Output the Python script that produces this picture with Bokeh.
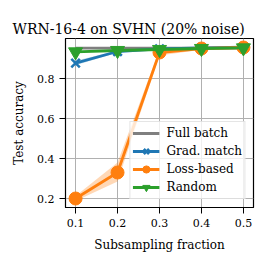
from bokeh.plotting import figure
from bokeh.models import Legend, LegendItem, Range1d, FixedTicker
from bokeh.embed import file_html
from bokeh.resources import INLINE

fractions = [0.1, 0.2, 0.3, 0.4, 0.5]
full_batch = [0.952, 0.952, 0.952, 0.952, 0.952]
grad_match = [0.877, 0.935, 0.948, 0.953, 0.957]
grad_lo = [0.866, 0.930, 0.945, 0.950, 0.954]
grad_hi = [0.889, 0.940, 0.951, 0.956, 0.960]
loss_based = [0.200, 0.330, 0.930, 0.950, 0.955]
loss_lo = [0.188, 0.285, 0.915, 0.944, 0.950]
loss_hi = [0.212, 0.380, 0.945, 0.956, 0.960]
random_sel = [0.933, 0.940, 0.945, 0.950, 0.953]
x_ticks = [0.1, 0.2, 0.3, 0.4, 0.5]
y_ticks = [0.2, 0.4, 0.6, 0.8]

FONT = "DejaVu Serif"
BLUE, ORANGE, GREEN, GRAY = "#1f77b4", "#ff7f0e", "#2ca02c", "#7f7f7f"

p = figure(width=257, height=257, output_backend="svg", toolbar_location=None,
           x_range=Range1d(0.076, 0.524), y_range=Range1d(0.155, 1.0),
           min_border_left=65, min_border_right=4, min_border_top=38, min_border_bottom=50)

p.title.text = "WRN-16-4 on SVHN (20% noise)"
p.title.text_font = FONT
p.title.text_font_size = "14px"
p.title.text_font_style = "normal"
p.title.text_color = "black"
p.title.align = "left"
p.title.vertical_align = "top"
p.title.offset = -53
p.title.standoff = 0

p.outline_line_color = "black"
p.outline_line_width = 1.2
p.outline_line_alpha = 1.0

for ax in (p.xaxis[0], p.yaxis[0]):
    ax.major_label_text_font = FONT
    ax.major_label_text_font_size = "11px"
    ax.axis_label_text_font = FONT
    ax.axis_label_text_font_size = "12px"
    ax.axis_label_text_font_style = "normal"
    ax.major_tick_out = 6
    ax.major_tick_in = 0
    ax.minor_tick_out = 0
    ax.minor_tick_in = 0
    ax.axis_line_color = "black"
    ax.major_tick_line_color = "black"
    ax.major_label_text_color = "black"
    ax.axis_label_text_color = "black"
    ax.major_label_standoff = 5

p.xaxis.ticker = FixedTicker(ticks=x_ticks)
p.yaxis.ticker = FixedTicker(ticks=y_ticks)
p.xaxis.axis_label = "Subsampling fraction"
p.yaxis.axis_label = "Test accuracy"
p.xaxis.axis_label_standoff = 8
p.yaxis.axis_label_standoff = 8

p.xgrid.grid_line_color = "#b0b0b0"
p.ygrid.grid_line_color = "#b0b0b0"
p.xgrid.grid_line_width = 1
p.ygrid.grid_line_width = 1

# bands
p.varea(x=fractions, y1=grad_lo, y2=grad_hi, fill_color=BLUE, fill_alpha=0.25)
p.varea(x=fractions, y1=loss_lo, y2=loss_hi, fill_color=ORANGE, fill_alpha=0.3)

r_full = p.line(fractions, full_batch, line_color=GRAY, line_width=2.8)

r_g_l = p.line(fractions, grad_match, line_color=BLUE, line_width=2.8)
r_g_m = p.scatter(fractions, grad_match, marker="x", size=12, line_color=BLUE, line_width=2.5)

r_l_l = p.line(fractions, loss_based, line_color=ORANGE, line_width=2.8)
r_l_m = p.scatter(fractions, loss_based, marker="circle", size=13, fill_color=ORANGE, line_color=ORANGE)

r_r_l = p.line(fractions, random_sel, line_color=GREEN, line_width=2.8)
r_r_m = p.scatter(fractions, random_sel, marker="inverted_triangle", size=14, fill_color=GREEN, line_color=GREEN)

legend = Legend(items=[
    LegendItem(label="Full batch", renderers=[r_full]),
    LegendItem(label="Grad. match", renderers=[r_g_l, r_g_m]),
    LegendItem(label="Loss-based", renderers=[r_l_l, r_l_m]),
    LegendItem(label="Random", renderers=[r_r_l, r_r_m]),
], location="bottom_right")
legend.label_text_font = FONT
legend.label_text_font_size = "12px"
legend.label_text_color = "black"
legend.glyph_width = 27
legend.glyph_height = 18
legend.label_height = 18
legend.label_standoff = 7
legend.spacing = 0
legend.padding = 2
legend.margin = 8
legend.border_line_color = "#cccccc"
legend.border_line_width = 1
legend.background_fill_alpha = 0.8
p.add_layout(legend)

open("out.html", "w").write(file_html(p, INLINE))
